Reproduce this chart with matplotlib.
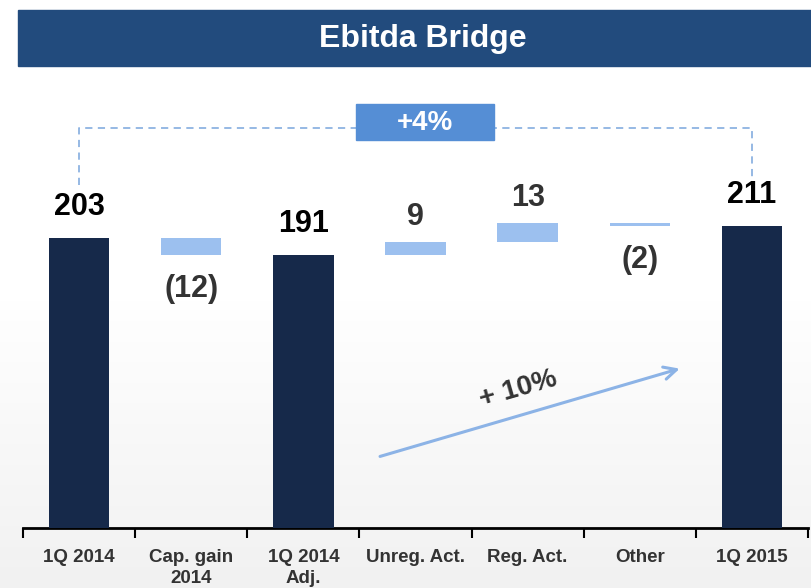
import numpy as np
import matplotlib
matplotlib.use("Agg")
import matplotlib.pyplot as plt
from matplotlib.patches import Rectangle

plt.rcParams['font.family'] = ['Liberation Sans', 'DejaVu Sans']
plt.rcParams['font.weight'] = 'bold'

# ---- data ----
categories = ["1Q 2014", "Cap. gain\n2014", "1Q 2014\nAdj.", "Unreg. Act.", "Reg. Act.", "Other", "1Q 2015"]
values = [203, -12, 191, 9, 13, -2, 211]
is_total = [True, False, True, False, False, False, True]
value_labels = ["203", "(12)", "191", "9", "13", "(2)", "211"]
title = "Ebitda Bridge"
yoy_label = "+4%"
trend_label = "+ 10%"

# ---- colours ----
navy = "#16294a"
light = "#9cc0ef"
banner = "#224b7d"
box_blue = "#558ed5"
dash_blue = "#8db3e2"
arrow_blue = "#8cb3e6"
dark_text = "#333333"

W, H = 811, 588
fig = plt.figure(figsize=(W / 100, H / 100), dpi=100)

# background gradient
bg = fig.add_axes([0, 0, 1, 1], zorder=-10)
grad = np.ones((H, 1))
yy = np.arange(H)
start = 300
grad[yy > start, 0] = 1 - 0.055 * (yy[yy > start] - start) / (H - start)
bg.imshow(np.dstack([grad, grad, grad]), aspect='auto', extent=[0, 1, 0, 1], origin='upper')
bg.axis('off')

# title banner
fig.patches.append(Rectangle((18 / W, 1 - 66 / H), (W - 18) / W, 56 / H,
                             transform=fig.transFigure, color=banner, zorder=1))
fig.text(423 / W, 1 - 39 / H, title, color='white', fontsize=23, fontweight='bold',
         ha='center', va='center')

# main axes
left, right = 23 / W, 808 / W
bottom = (H - 528) / H
ymax = 280
px_per_unit = 1.43
ax = fig.add_axes([left, bottom, right - left, ymax * px_per_unit / H])
ax.patch.set_alpha(0)
ax.set_xlim(-0.5, len(categories) - 0.5)
ax.set_ylim(0, ymax)

# waterfall computation
x = np.arange(len(categories))
bases, heights, colors = [], [], []
running = 0
for v, t in zip(values, is_total):
    if t:
        bases.append(0)
        heights.append(v)
        colors.append(navy)
        running = v
    else:
        bases.append(running if v > 0 else running + v)
        heights.append(abs(v))
        colors.append(light)
        running += v

ax.bar(x, heights, bottom=bases, width=0.54, color=colors, zorder=3)

# value labels
for xi, b, h, v, t, lab in zip(x, bases, heights, values, is_total, value_labels):
    if t:
        ax.annotate(lab, (xi, b + h), xytext=(0, 16), textcoords='offset pixels',
                    ha='center', va='bottom', fontsize=22, fontweight='bold', color='black')
    elif v > 0:
        ax.annotate(lab, (xi, b + h), xytext=(0, 10), textcoords='offset pixels',
                    ha='center', va='bottom', fontsize=22, fontweight='bold', color=dark_text)
    else:
        ax.annotate(lab, (xi, b), xytext=(0, -19), textcoords='offset pixels',
                    ha='center', va='top', fontsize=22, fontweight='bold', color=dark_text)

# axes styling
for s in ['top', 'right', 'left']:
    ax.spines[s].set_visible(False)
ax.spines['bottom'].set_linewidth(2)
ax.spines['bottom'].set_color('black')
ax.set_yticks([])
ax.set_xticks(x)
ax.set_xticklabels(categories, fontsize=13.5, fontweight='bold',
                   color=dark_text, linespacing=1.3)
ax.tick_params(axis='x', length=0, pad=15)
ax.set_xticks(np.arange(-0.5, len(categories)), minor=True)
ax.tick_params(axis='x', which='minor', length=7, width=1.5, direction='out', color='black')

# +4% bracket
yb = ymax
ax.plot([x[0], x[0], x[-1], x[-1]], [240, yb, yb, 240], ls=(0, (4, 3)), lw=1.3,
        color=dash_blue, clip_on=False, zorder=2)
box_l, box_r = 2.47, 3.70
ax.add_patch(Rectangle((box_l, 271), box_r - box_l, 25.5, color=box_blue, clip_on=False, zorder=4))
ax.text((box_l + box_r) / 2, 283.5, yoy_label, color='white', fontsize=20, fontweight='bold',
        ha='center', va='center', zorder=5)

# +10% arrow
ax.annotate('', xy=(5.38, 112), xytext=(2.66, 49.5),
            arrowprops=dict(arrowstyle='->,head_length=0.9,head_width=0.45', color=arrow_blue, lw=2.2),
            zorder=4)
ax.text(3.92, 97, trend_label, rotation=16, rotation_mode='anchor', fontsize=20, fontweight='bold',
        color=dark_text, ha='center', va='center')

fig.savefig("out.png", dpi=100)
